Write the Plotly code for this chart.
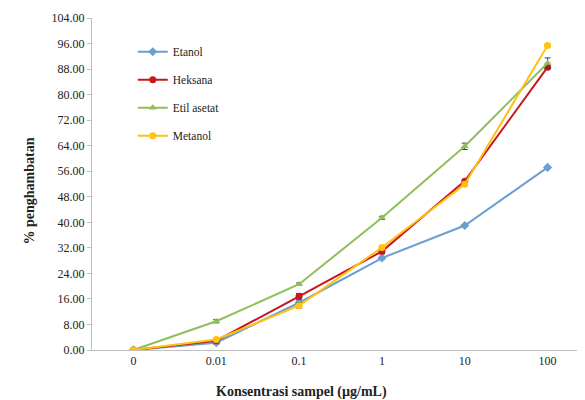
import plotly.graph_objects as go

categories = ["0", "0.01", "0.1", "1", "10", "100"]
etanol = [0.0, 2.3, 14.8, 28.8, 39.0, 57.2]
heksana = [0.0, 2.9, 16.8, 30.9, 52.9, 88.6]
etil_asetat = [0.0, 9.0, 20.6, 41.4, 63.8, 89.9]
metanol = [0.0, 3.3, 13.9, 32.1, 51.9, 95.4]
err_etanol = [0.2, 0.5, 0.8, 0.4, 0.3, 0.3]
err_heksana = [0.2, 0.4, 0.9, 0.8, 0.5, 0.5]
err_etil = [0.2, 0.5, 0.4, 0.5, 1.0, 1.6]
err_metanol = [0.2, 0.4, 0.8, 0.5, 0.4, 0.4]
y_ticks = [0, 8, 16, 24, 32, 40, 48, 56, 64, 72, 80, 88, 96, 104]

series = [
    ("Etanol", etanol, err_etanol, "#6A9FD2", "diamond"),
    ("Heksana", heksana, err_heksana, "#C8161E", "circle"),
    ("Etil asetat", etil_asetat, err_etil, "#8DBF5A", "triangle-up"),
    ("Metanol", metanol, err_metanol, "#FFC20E", "circle"),
]

fig = go.Figure()
for name, vals, errs, color, sym in series:
    fig.add_trace(go.Scatter(
        x=categories, y=vals, name=name, mode="lines+markers",
        legendgroup=name,
        line=dict(color=color, width=2),
        marker=dict(color=color, symbol=sym, size=7),
        error_y=dict(type="data", array=errs, color="#404040", thickness=1, width=3),
    ))

font = "Liberation Serif, Times New Roman, serif"
fig.update_layout(
    width=585, height=392,
    margin=dict(l=84, r=4, t=10, b=50),
    paper_bgcolor="white", plot_bgcolor="white",
    font=dict(family=font, size=12, color="#222222"),
    showlegend=True,
    legend=dict(x=0.082, y=0.942, xanchor="left", yanchor="top",
                bgcolor="rgba(0,0,0,0)", font=dict(size=11.5, family=font),
                tracegroupgap=9, itemwidth=30),
    xaxis=dict(type="category", range=[-0.5, 5.5], showline=True,
               linecolor="#BFBFBF", linewidth=1, ticks="", showgrid=False,
               zeroline=False, automargin=False,
               tickfont=dict(size=12, family=font)),
    yaxis=dict(range=[0, 104], tickvals=y_ticks,
               ticktext=[f"{v:.2f}" for v in y_ticks],
               showline=True, linecolor="#BFBFBF", linewidth=1,
               ticks="outside", ticklen=4, tickcolor="#BFBFBF",
               showgrid=False, zeroline=False, automargin=False,
               tickfont=dict(size=12, family=font)),
    annotations=[
        dict(text="<b>Konsentrasi sampel (µg/mL)</b>", xref="paper", yref="paper",
             x=0.4225, y=-0.125, xanchor="center", yanchor="middle", showarrow=False,
             font=dict(size=14, family=font, color="#222222")),
        dict(text="<b>% penghambatan</b>", xref="paper", yref="paper",
             x=-0.125, y=0.48, xanchor="center", yanchor="middle", showarrow=False,
             textangle=-90, font=dict(size=14, family=font, color="#222222")),
    ],
)
fig.write_html("out.html")
